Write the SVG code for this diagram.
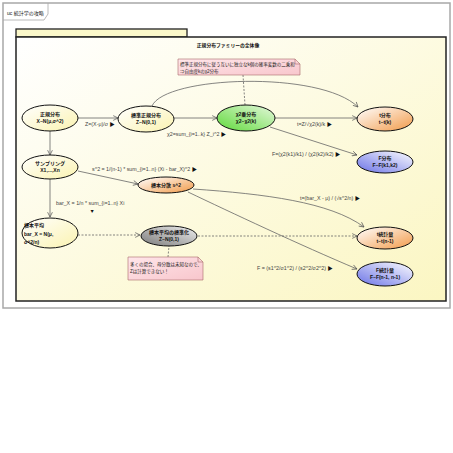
<svg xmlns="http://www.w3.org/2000/svg" width="453" height="453" viewBox="0 0 453 453">
<defs>
<linearGradient id="pkg" x1="0" y1="0" x2="1" y2="1"><stop offset="0" stop-color="#FFFFFF"/><stop offset="1" stop-color="#FBF6C2"/></linearGradient>
<linearGradient id="gy" x1="0" y1="0" x2="1" y2="1"><stop offset="0" stop-color="#FFFFFF"/><stop offset="1" stop-color="#FBF3B0"/></linearGradient>
<linearGradient id="gg" x1="1" y1="0" x2="0" y2="1"><stop offset="0" stop-color="#E6F8DD"/><stop offset="1" stop-color="#5FD93A"/></linearGradient>
<linearGradient id="go" x1="0" y1="0" x2="1" y2="1"><stop offset="0" stop-color="#FFFFFF"/><stop offset="1" stop-color="#F29A48"/></linearGradient>
<linearGradient id="gb" x1="1" y1="0" x2="0" y2="1"><stop offset="0" stop-color="#FFFFFF"/><stop offset="1" stop-color="#6A72E6"/></linearGradient>
<linearGradient id="gr" x1="1" y1="0" x2="0" y2="1"><stop offset="0" stop-color="#F0F0F0"/><stop offset="1" stop-color="#7A7A7A"/></linearGradient>
<linearGradient id="gn" x1="0" y1="0" x2="1" y2="1"><stop offset="0" stop-color="#FFE6EA"/><stop offset="1" stop-color="#F8C6CC"/></linearGradient>
<marker id="arr" viewBox="0 0 10 10" refX="9" refY="5" markerWidth="6" markerHeight="6" orient="auto" markerUnits="userSpaceOnUse">
<path d="M1,1 L9,5 L1,9" fill="none" stroke="#555" stroke-width="1.2"/>
</marker>
<style>
text{font-family:"Liberation Sans","Noto Sans CJK JP",sans-serif;fill:#111}
.nd{stroke:#111;stroke-width:1}
.nt{font-size:5px;font-weight:bold;text-anchor:middle}
.lb{font-size:5.3px;fill:#444}
.nn{font-size:4.5px;fill:#222}
.ed{fill:none;stroke:#666;stroke-width:0.8}
.dash{stroke-dasharray:2,1.5}
.note{fill:url(#gn);stroke:#A86A6A;stroke-width:0.6}
</style>
</defs>
<rect x="0" y="0" width="453" height="453" fill="#FFFFFF"/>
<g id="frame">
<rect x="3" y="3" width="447" height="305" fill="#FFFFFF" stroke="#A8A8A8" stroke-width="1.5"/>
<path d="M3,20 L44,20 L48,14 L48,3" fill="none" stroke="#A8A8A8" stroke-width="0.8"/>
<text x="7" y="15" style="font-size:5px">uc 統計学の攻略</text>
</g>
<g id="package">
<rect x="16" y="29" width="171" height="8" fill="#FBF8CA" stroke="#222" stroke-width="1.3"/>
<rect x="16" y="37" width="430" height="264" fill="url(#pkg)" stroke="#222" stroke-width="1.5"/>
<text x="228" y="47" style="font-size:4.8px;font-weight:bold;text-anchor:middle">正規分布ファミリーの全体像</text>
</g>
<g id="connectors">
<path class="ed" d="M78,118 L118,118" marker-end="url(#arr)"/>
<path class="ed" d="M174,118 L217,118" marker-end="url(#arr)"/>
<path class="ed" d="M152,106 C165,76 320,70 358,107" marker-end="url(#arr)"/>
<path class="ed" d="M275,118 L357,118" marker-end="url(#arr)"/>
<path class="ed" d="M270,127 L357,155" marker-end="url(#arr)"/>
<path class="ed" d="M50,131 L50,155" marker-end="url(#arr)"/>
<path class="ed" d="M78,171 L138,184" marker-end="url(#arr)"/>
<path class="ed" d="M50,179 L50,217" marker-end="url(#arr)"/>
<path class="ed" d="M193,189 C265,194 330,202 364,227" marker-end="url(#arr)"/>
<path class="ed" d="M188,192 C230,212 300,245 357,269" marker-end="url(#arr)"/>
<path class="ed dash" d="M78,235 L140,235" marker-end="url(#arr)"/>
<path class="ed dash" d="M198,236 L357,236" marker-end="url(#arr)"/>
<path class="ed dash" d="M243,75 L245,105"/>
<path class="ed dash" d="M168,257 L169,246"/>
<text class="lb" x="85" y="126">Z=(X-μ)/σ <tspan style="fill:#111">▶</tspan></text>
<text class="lb" x="167" y="135.5">χ2=sum_{i=1..k} Z_i^2 <tspan style="fill:#111">▶</tspan></text>
<text class="lb" x="297" y="125.5">t=Z/√χ2(k)/k <tspan style="fill:#111">▶</tspan></text>
<text class="lb" x="272" y="156">F=(χ2(k1)/k1) / (χ2(k2)/k2) <tspan style="fill:#111">▶</tspan></text>
<text class="lb" x="92" y="171">s^2 = 1/(n-1) * sum_{i=1..n} (Xi - bar_X)^2 <tspan style="fill:#111">▶</tspan></text>
<text class="lb" x="56" y="205">bar_X = 1/n * sum_{i=1..n} Xi</text>
<text class="lb" x="89.5" y="212.5" style="fill:#111">▼</text>
<text class="lb" x="300" y="199.5">t=(bar_X - μ) / (√s^2/n) <tspan style="fill:#111">▶</tspan></text>
<text class="lb" x="257" y="270">F = (s1^2/σ1^2) / (s2^2/σ2^2) <tspan style="fill:#111">▶</tspan></text>
</g>
<g id="note1">
<path class="note" d="M178,59 L295,59 L300,64 L300,75 L178,75 Z"/>
<path d="M295,59 L295,64 L300,64" fill="none" stroke="#A86A6A" stroke-width="0.6"/>
<text class="nn" x="180" y="65.5">標準正規分布に従う互いに独立なk個の確率変数の二乗和</text>
<text class="nn" x="180" y="72.5">⇒自由度kのχ2分布</text>
</g>
<g id="note2">
<path class="note" d="M128,257 L198,257 L203,262 L203,280 L128,280 Z"/>
<path d="M198,257 L198,262 L203,262" fill="none" stroke="#A86A6A" stroke-width="0.6"/>
<text class="nn" x="130" y="266">多くの場合、母分散は未知なので、</text>
<text class="nn" x="130" y="273">Zは計算できない！</text>
</g>
<g id="n-normal">
<ellipse class="nd" cx="50" cy="118" rx="28" ry="13" fill="url(#gy)"/>
<text class="nt" x="50" y="116">正規分布</text>
<text class="nt" x="50" y="123">X~N(μ,σ^2)</text>
</g>
<g id="n-std">
<ellipse class="nd" cx="146" cy="119" rx="28" ry="13" fill="url(#gy)"/>
<text class="nt" x="146" y="117">標準正規分布</text>
<text class="nt" x="146" y="124">Z~N(0,1)</text>
</g>
<g id="n-chi2">
<ellipse class="nd" cx="246" cy="118" rx="29" ry="13" fill="url(#gg)"/>
<text class="nt" x="246" y="116">χ2乗分布</text>
<text class="nt" x="246" y="123">χ2~χ2(k)</text>
</g>
<g id="n-t">
<ellipse class="nd" cx="385" cy="119" rx="28" ry="12" fill="url(#go)"/>
<text class="nt" x="385" y="117">t分布</text>
<text class="nt" x="385" y="124">t~t(k)</text>
</g>
<g id="n-f">
<ellipse class="nd" cx="385" cy="162" rx="28" ry="11" fill="url(#gb)"/>
<text class="nt" x="385" y="160">F分布</text>
<text class="nt" x="385" y="167">F~F(k1,k2)</text>
</g>
<g id="n-sampling">
<ellipse class="nd" cx="50" cy="167" rx="28" ry="12" fill="url(#gy)"/>
<text class="nt" x="50" y="165">サンプリング</text>
<text class="nt" x="50" y="172">X1,...,Xn</text>
</g>
<g id="n-var">
<ellipse class="nd" cx="166" cy="185" rx="28" ry="8" fill="url(#go)"/>
<text class="nt" x="166" y="187">標本分散 s^2</text>
</g>
<g id="n-mean">
<ellipse class="nd" cx="50" cy="233" rx="28" ry="15" fill="url(#gy)"/>
<text class="nt" x="24" y="227" style="text-anchor:start">標本平均</text>
<text class="nt" x="24" y="235.5" style="text-anchor:start">bar_X = N(μ,</text>
<text class="nt" x="24" y="244" style="text-anchor:start">σ^2/n)</text>
</g>
<g id="n-meanstd">
<ellipse class="nd" cx="169" cy="236" rx="28" ry="10" fill="url(#gr)"/>
<text class="nt" x="169" y="234">標本平均の標準化</text>
<text class="nt" x="169" y="241">Z~N(0,1)</text>
</g>
<g id="n-tstat">
<ellipse class="nd" cx="385" cy="238" rx="28" ry="11" fill="url(#go)"/>
<text class="nt" x="385" y="236">t統計量</text>
<text class="nt" x="385" y="243">t~t(n-1)</text>
</g>
<g id="n-fstat">
<ellipse class="nd" cx="385" cy="274" rx="28" ry="12" fill="url(#gb)"/>
<text class="nt" x="385" y="272">F統計量</text>
<text class="nt" x="385" y="279">F~F(n-1, n-1)</text>
</g>
</svg>
